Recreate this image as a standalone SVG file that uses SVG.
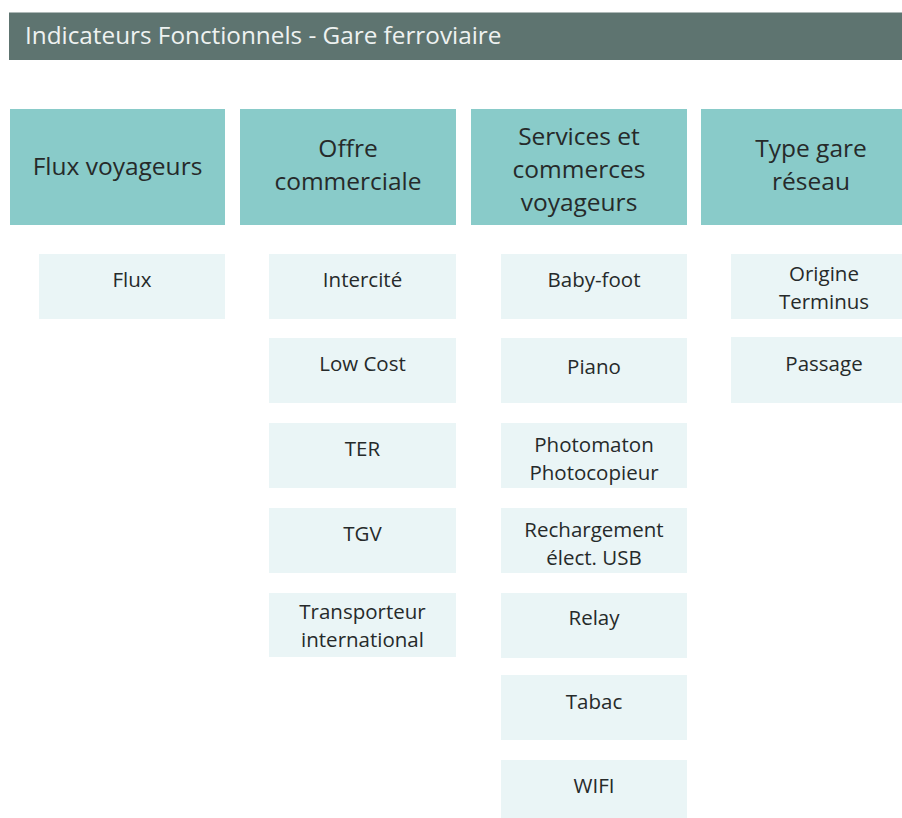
<svg xmlns="http://www.w3.org/2000/svg" width="902" height="818" viewBox="0 0 902 818">
<style>
text{font-family:"Open Sans","Noto Sans","Liberation Sans",sans-serif;text-anchor:middle;fill:#262a2a}
.title{fill:#5e7470}
.ttl{fill:#eef2f1;text-anchor:start;font-size:24.3px}
.hd{fill:#89cbc9}
.hdt{font-size:24.5px}
.it{fill:#eaf5f6}
.itt{font-size:20.5px}
</style>
<rect width="902" height="818" fill="#ffffff"/>
<g id="title">
<rect class="title" x="9" y="12.5" width="893" height="47.5"/>
<text class="ttl" x="25" y="44">Indicateurs Fonctionnels - Gare ferroviaire</text>
</g>
<g id="h1"><rect class="hd" x="10" y="109" width="215" height="116"/><text class="hdt" x="117.5" y="175">Flux voyageurs</text></g>
<g id="h2"><rect class="hd" x="240" y="109" width="216" height="116"/><text class="hdt" x="348" y="157">Offre</text><text class="hdt" x="348" y="190">commerciale</text></g>
<g id="h3"><rect class="hd" x="471" y="109" width="216" height="116"/><text class="hdt" x="579" y="145">Services et</text><text class="hdt" x="579" y="178">commerces</text><text class="hdt" x="579" y="211">voyageurs</text></g>
<g id="h4"><rect class="hd" x="701" y="109" width="201" height="116"/><text class="hdt" x="811" y="157">Type gare</text><text class="hdt" x="811" y="190">réseau</text></g>

<g id="flux"><rect class="it" x="39" y="254" width="186" height="65"/><text class="itt" x="132" y="287">Flux</text></g>

<g id="intercite"><rect class="it" x="269" y="254" width="187" height="65"/><text class="itt" x="362.5" y="287">Intercité</text></g>
<g id="lowcost"><rect class="it" x="269" y="338" width="187" height="65"/><text class="itt" x="362.5" y="371">Low Cost</text></g>
<g id="ter"><rect class="it" x="269" y="423" width="187" height="65"/><text class="itt" x="362.5" y="456">TER</text></g>
<g id="tgv"><rect class="it" x="269" y="508" width="187" height="65"/><text class="itt" x="362.5" y="541">TGV</text></g>
<g id="transporteur"><rect class="it" x="269" y="593" width="187" height="64"/><text class="itt" x="362.5" y="619">Transporteur</text><text class="itt" x="362.5" y="647">international</text></g>

<g id="babyfoot"><rect class="it" x="501" y="254" width="186" height="65"/><text class="itt" x="594" y="287">Baby-foot</text></g>
<g id="piano"><rect class="it" x="501" y="338" width="186" height="65"/><text class="itt" x="594" y="374">Piano</text></g>
<g id="photomaton"><rect class="it" x="501" y="423" width="186" height="65"/><text class="itt" x="594" y="452">Photomaton</text><text class="itt" x="594" y="480">Photocopieur</text></g>
<g id="rechargement"><rect class="it" x="501" y="508" width="186" height="65"/><text class="itt" x="594" y="537">Rechargement</text><text class="itt" x="594" y="565">élect. USB</text></g>
<g id="relay"><rect class="it" x="501" y="593" width="186" height="65"/><text class="itt" x="594" y="625">Relay</text></g>
<g id="tabac"><rect class="it" x="501" y="675" width="186" height="65"/><text class="itt" x="594" y="709">Tabac</text></g>
<g id="wifi"><rect class="it" x="501" y="760" width="186" height="58"/><text class="itt" x="594" y="793">WIFI</text></g>

<g id="origine"><rect class="it" x="731" y="254" width="171" height="65"/><text class="itt" x="824" y="281">Origine</text><text class="itt" x="824" y="309">Terminus</text></g>
<g id="passage"><rect class="it" x="731" y="337" width="171" height="66"/><text class="itt" x="824" y="371">Passage</text></g>

<g id="connectors"></g>
</svg>
